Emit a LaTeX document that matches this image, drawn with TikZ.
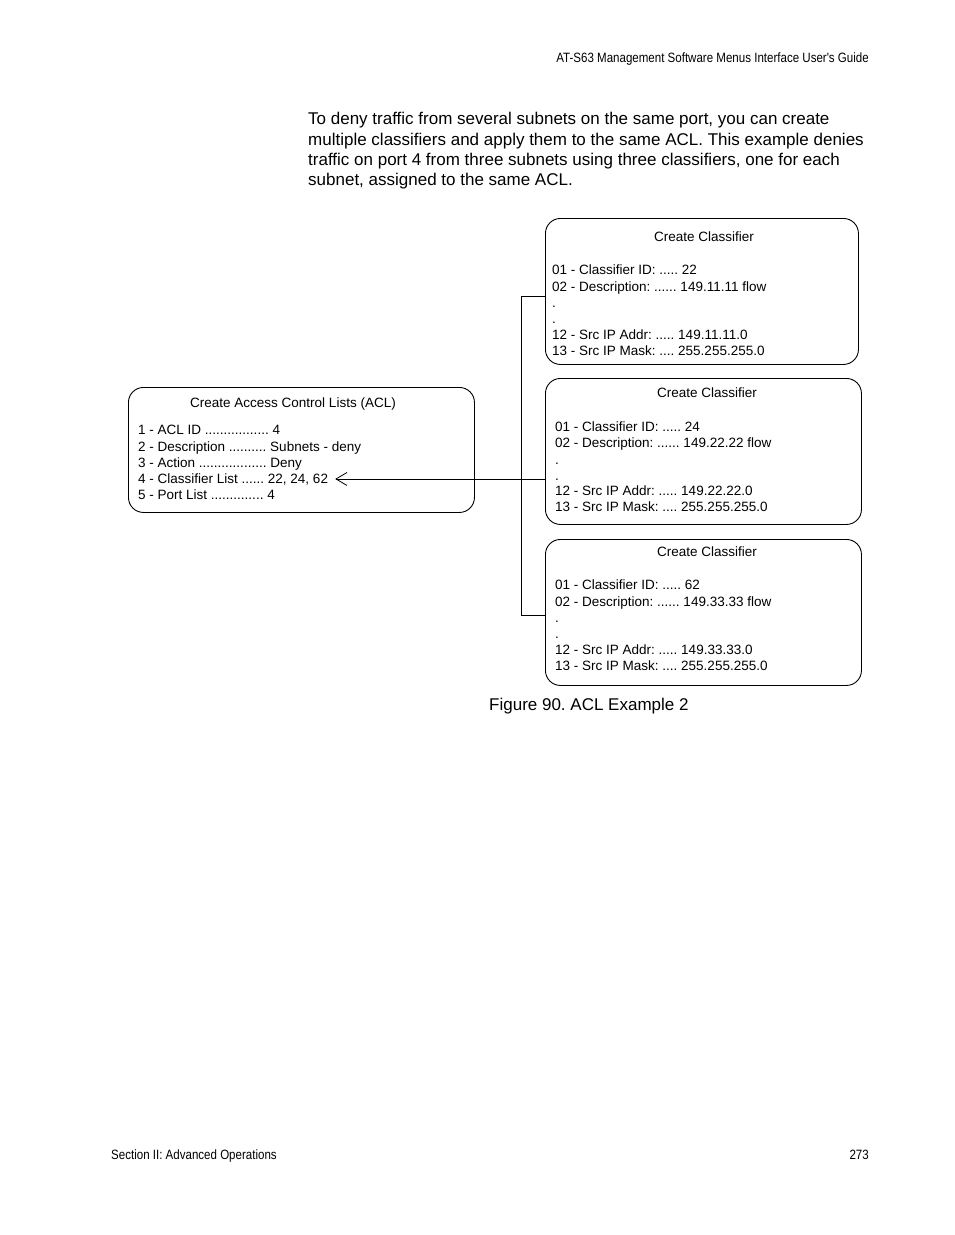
\documentclass[tikz,border=0pt]{standalone}
\usepackage{fontspec}
\setmainfont{Liberation Sans}
\newfontfamily\narrowfont[FakeStretch=0.855]{Liberation Sans}
\usetikzlibrary{arrows.meta}
\frenchspacing

\begin{document}
\begin{tikzpicture}[x=1pt,y=-1pt,
  menubox/.style={draw,line width=0.9pt,rounded corners=15pt,inner sep=0pt,anchor=north west},
  menutext/.style={anchor=base west,inner sep=0pt,font=\fontsize{13.5}{16}\selectfont},
  menutitle/.style={anchor=base,inner sep=0pt,font=\fontsize{13.5}{16}\selectfont},
  bodytext/.style={anchor=base west,inner sep=0pt,font=\fontsize{17}{20}\selectfont},
  pagetext/.style={inner sep=0pt,font=\narrowfont\fontsize{13.5}{16}\selectfont},
  link/.style={line width=0.8pt}]
\fill[white] (0,0) rectangle (954,1235);
\useasboundingbox (0,0) rectangle (954,1235);
% page header and footer
\node[pagetext,anchor=base east] (header) at (869,62) {AT-S63 Management Software Menus Interface User's Guide};
\node[pagetext,anchor=base west] (footer) at (111,1159) {Section II: Advanced Operations};
\node[pagetext,anchor=base east] (pageno) at (869,1159) {273};
% intro paragraph
\node[bodytext] (para1) at (308,124) {To deny traffic from several subnets on the same port, you can create};
\node[bodytext] (para2) at (308,145) {multiple classifiers and apply them to the same ACL. This example denies};
\node[bodytext] (para3) at (308,165) {traffic on port 4 from three subnets using three classifiers, one for each};
\node[bodytext] (para4) at (308,185) {subnet, assigned to the same ACL.};
% ACL menu
\node[menubox,minimum width=346pt,minimum height=125pt] (acl) at (128,387) {};
\node[menutitle] (acltitle) at (293,407) {Create Access Control Lists (ACL)};
\node[menutext] (acl1) at (138,434) {1 - ACL ID ................. 4};
\node[menutext] (acl2) at (138,451) {2 - Description .......... Subnets - deny};
\node[menutext] (acl3) at (138,467) {3 - Action .................. Deny};
\node[menutext] (acl4) at (138,483) {4 - Classifier List ...... 22, 24, 62};
\node[menutext] (acl5) at (138,499) {5 - Port List .............. 4};
% classifier 22
\node[menubox,minimum width=313pt,minimum height=146pt] (cls1) at (545,218) {};
\node[menutitle] (cls1title) at (704,241) {Create Classifier};
\node[menutext] (cls1a) at (552,274) {01 - Classifier ID: ..... 22};
\node[menutext] (cls1b) at (552,291) {02 - Description: ...... 149.11.11 flow};
\node[menutext] (cls1c) at (552,307) {.};
\node[menutext] (cls1d) at (552,323) {.};
\node[menutext] (cls1e) at (552,339) {12 - Src IP Addr: ..... 149.11.11.0};
\node[menutext] (cls1f) at (552,355) {13 - Src IP Mask: .... 255.255.255.0};
% classifier 24
\node[menubox,minimum width=316pt,minimum height=146pt] (cls2) at (545,378) {};
\node[menutitle] (cls2title) at (707,397) {Create Classifier};
\node[menutext] (cls2a) at (555,431) {01 - Classifier ID: ..... 24};
\node[menutext] (cls2b) at (555,447) {02 - Description: ...... 149.22.22 flow};
\node[menutext] (cls2c) at (555,464) {.};
\node[menutext] (cls2d) at (555,480) {.};
\node[menutext] (cls2e) at (555,495) {12 - Src IP Addr: ..... 149.22.22.0};
\node[menutext] (cls2f) at (555,511) {13 - Src IP Mask: .... 255.255.255.0};
% classifier 62
\node[menubox,minimum width=316pt,minimum height=146pt] (cls3) at (545,539) {};
\node[menutitle] (cls3title) at (707,556) {Create Classifier};
\node[menutext] (cls3a) at (555,589) {01 - Classifier ID: ..... 62};
\node[menutext] (cls3b) at (555,606) {02 - Description: ...... 149.33.33 flow};
\node[menutext] (cls3c) at (555,622) {.};
\node[menutext] (cls3d) at (555,638) {.};
\node[menutext] (cls3e) at (555,654) {12 - Src IP Addr: ..... 149.33.33.0};
\node[menutext] (cls3f) at (555,670) {13 - Src IP Mask: .... 255.255.255.0};
% connectors
\coordinate (busTop) at (521,296);
\coordinate (busBot) at (521,615);
\draw[link] (cls1.west |- busTop) -- (busTop) -- (busBot) -- (cls3.west |- busBot);
\draw[link,-{Straight Barb[length=11pt,width=13pt]}] (cls2.west |- acl4.east) -- ([xshift=7pt]acl4.east);
% caption
\node[bodytext] (caption) at (489,710) {Figure 90. ACL Example 2};
\end{tikzpicture}
\end{document}
